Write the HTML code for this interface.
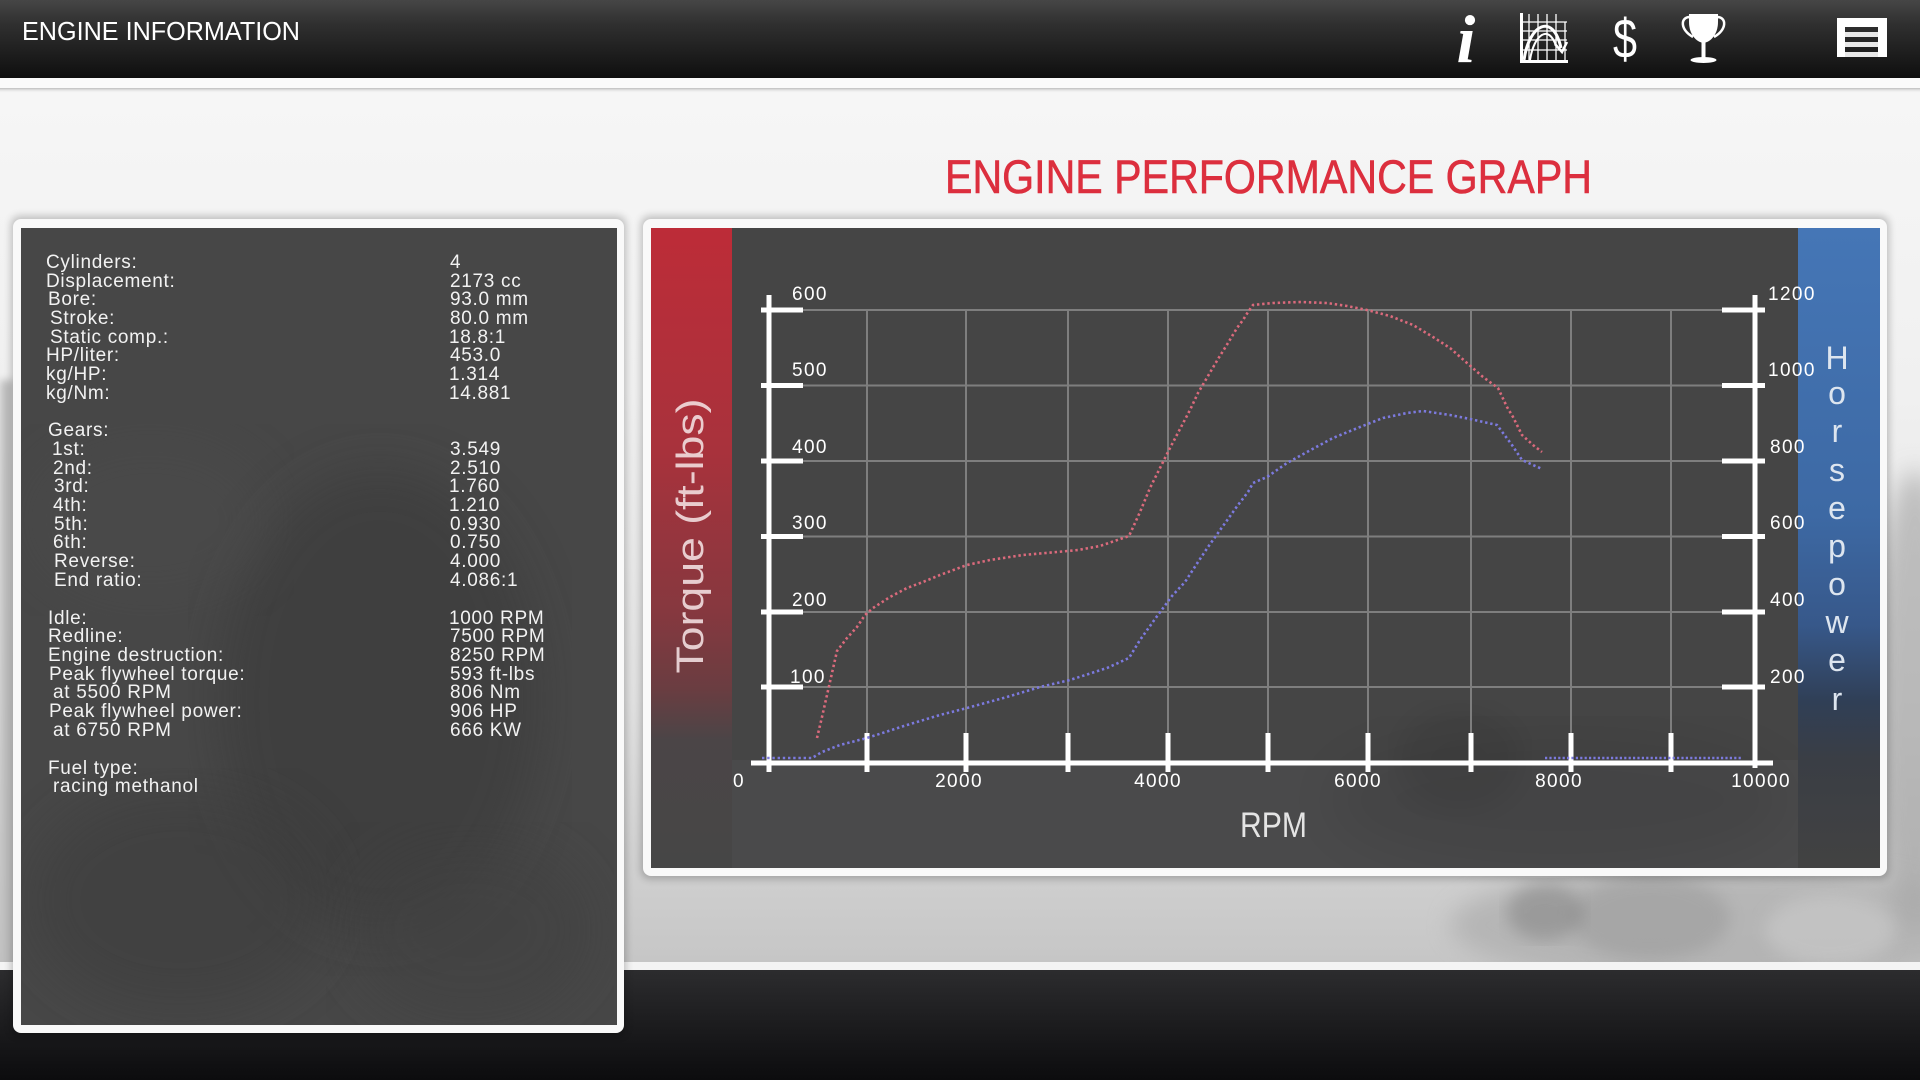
<!DOCTYPE html>
<html><head><meta charset="utf-8">
<style>
html,body{margin:0;padding:0;width:1920px;height:1080px;overflow:hidden;background:#eeeeee;}
svg{display:block;}
text{font-family:"Liberation Sans",sans-serif;}
.lt{fill:#f2f2f2;font-size:19px;letter-spacing:0.7px;}
.tk{fill:#ffffff;font-size:19px;letter-spacing:1.4px;}
</style></head><body>
<svg width="1920" height="1080" viewBox="0 0 1920 1080" xmlns="http://www.w3.org/2000/svg">
<defs>
 <linearGradient id="hdr" x1="0" y1="0" x2="0" y2="1">
  <stop offset="0" stop-color="#464646"/><stop offset="0.3" stop-color="#303030"/><stop offset="1" stop-color="#0f0f0f"/>
 </linearGradient>
 <linearGradient id="bg" x1="0" y1="0" x2="0" y2="1">
  <stop offset="0" stop-color="#f6f6f6"/><stop offset="0.35" stop-color="#f0f0f0"/><stop offset="0.7" stop-color="#e0e0e0"/><stop offset="0.9" stop-color="#cfcfcf"/><stop offset="1" stop-color="#c6c6c6"/>
 </linearGradient>
 <linearGradient id="bot" x1="0" y1="0" x2="0" y2="1">
  <stop offset="0" stop-color="#2c2c2e"/><stop offset="1" stop-color="#0c0c0e"/>
 </linearGradient>
 <linearGradient id="shl" x1="0" y1="0" x2="0" y2="1">
  <stop offset="0" stop-color="#bdbdbd"/><stop offset="1" stop-color="#f4f4f4" stop-opacity="0"/>
 </linearGradient>
 <linearGradient id="red" x1="0" y1="228" x2="0" y2="868" gradientUnits="userSpaceOnUse">
  <stop offset="0" stop-color="#bd2c38"/><stop offset="0.35" stop-color="#a8323c"/><stop offset="0.6" stop-color="#86383f"/><stop offset="0.72" stop-color="#6a3d41"/><stop offset="0.8" stop-color="#4b4547"/><stop offset="1" stop-color="#464646"/>
 </linearGradient>
 <linearGradient id="blue" x1="0" y1="228" x2="0" y2="868" gradientUnits="userSpaceOnUse">
  <stop offset="0" stop-color="#4576b6"/><stop offset="0.45" stop-color="#3d69a4"/><stop offset="0.62" stop-color="#37588a"/><stop offset="0.74" stop-color="#303f56"/><stop offset="0.83" stop-color="#3a3e45"/><stop offset="1" stop-color="#424242"/>
 </linearGradient>
 <filter id="blur4"><feGaussianBlur stdDeviation="4"/></filter>
 <filter id="blur8"><feGaussianBlur stdDeviation="8"/></filter>
 <filter id="blur12"><feGaussianBlur stdDeviation="12"/></filter>
 <filter id="blur25"><feGaussianBlur stdDeviation="25"/></filter>
 <clipPath id="cpL"><rect x="21" y="228" width="596" height="797"/></clipPath>
 <clipPath id="cpC"><rect x="651" y="228" width="1229" height="640"/></clipPath>
 <clipPath id="cpStrip"><rect x="0" y="92" width="1920" height="870"/></clipPath>
</defs>

<!-- base background -->
<rect x="0" y="0" width="1920" height="1080" fill="#eeeeee"/>
<rect x="0" y="88" width="1920" height="874" fill="url(#bg)"/>
<g clip-path="url(#cpStrip)">
 <rect x="0" y="380" width="14" height="590" fill="#bdbdbd" filter="url(#blur4)"/>
 <ellipse cx="1915" cy="700" rx="40" ry="230" fill="#9a9a9a" opacity="0.55" filter="url(#blur12)"/>
 <ellipse cx="1720" cy="925" rx="270" ry="60" fill="#a8a8a8" opacity="0.6" filter="url(#blur12)"/>
 <ellipse cx="1650" cy="918" rx="80" ry="42" fill="#949494" opacity="0.45" filter="url(#blur8)"/>
 <ellipse cx="1545" cy="912" rx="38" ry="28" fill="#7a7a7a" opacity="0.45" filter="url(#blur8)"/>
 <ellipse cx="1830" cy="930" rx="65" ry="35" fill="#cfcfcf" opacity="0.5" filter="url(#blur8)"/>
</g>

<!-- header -->
<rect x="0" y="0" width="1920" height="78" fill="url(#hdr)"/>
<rect x="0" y="78" width="1920" height="10" fill="#fbfbfb"/>
<rect x="0" y="88" width="1920" height="5" fill="url(#shl)"/>
<text x="22" y="40" font-size="25.5" fill="#ffffff" textLength="278" lengthAdjust="spacingAndGlyphs">ENGINE INFORMATION</text>

<!-- icons -->
<text x="1466" y="62" text-anchor="middle" font-style="italic" font-weight="bold" font-size="68" fill="#ffffff" style="font-family:'Liberation Serif',serif">i</text>
<g fill="none" stroke="#ffffff">
 <g stroke-width="1.3">
  <line x1="1529" y1="14" x2="1529" y2="60"/><line x1="1538" y1="14" x2="1538" y2="60"/><line x1="1547" y1="14" x2="1547" y2="60"/><line x1="1556" y1="14" x2="1556" y2="60"/><line x1="1565" y1="22" x2="1565" y2="60"/>
  <line x1="1521" y1="22" x2="1567" y2="22"/><line x1="1521" y1="31" x2="1567" y2="31"/><line x1="1521" y1="40" x2="1567" y2="40"/><line x1="1521" y1="50" x2="1567" y2="50"/>
 </g>
 <path d="M1524 60 C1529 24 1553 12 1561 48" stroke-width="3"/>
 <path d="M1530 60 C1534 34 1549 24 1556 46" stroke-width="2"/>
 <path d="M1555 44 L1562 52 L1567 42" stroke-width="2.5"/>
</g>
<rect x="1520" y="13" width="3" height="50" fill="#ffffff"/>
<rect x="1520" y="60" width="48" height="3" fill="#ffffff"/>
<text x="1625" y="58" text-anchor="middle" font-size="56" fill="#ffffff" textLength="24" lengthAdjust="spacingAndGlyphs">$</text>
<path d="M1689 14 H1718 V22 C1718 34 1711 42 1703.5 43 C1696 42 1689 34 1689 22 Z" fill="#ffffff"/>
<path d="M1690 17 C1680 17 1680 30 1693 37 M1717 17 C1727 17 1727 30 1714 37" fill="none" stroke="#ffffff" stroke-width="2.5"/>
<rect x="1701.5" y="42" width="4" height="16" fill="#ffffff"/>
<ellipse cx="1703.5" cy="60" rx="13" ry="3" fill="#ffffff"/>
<rect x="1837" y="18" width="50" height="9" fill="#ffffff"/>
<rect x="1837" y="27" width="8" height="30" fill="#ffffff"/>
<rect x="1878" y="27" width="9" height="30" fill="#ffffff"/>
<rect x="1845" y="32" width="33" height="5" fill="#e8e8e8"/>
<rect x="1845" y="42" width="33" height="5" fill="#e8e8e8"/>
<rect x="1845" y="52" width="33" height="5" fill="#e8e8e8"/>

<!-- title -->
<text x="945" y="193" font-size="47.5" fill="#dc2f3e" stroke="#dc2f3e" stroke-width="0.6" textLength="647" lengthAdjust="spacingAndGlyphs">ENGINE PERFORMANCE GRAPH</text>

<!-- bottom band -->
<rect x="0" y="962" width="1920" height="8" fill="#f4f4f4"/>
<rect x="0" y="970" width="1920" height="110" fill="url(#bot)"/>

<!-- panel shadows -->
<rect x="11" y="216" width="615" height="820" rx="9" fill="#000" opacity="0.22" filter="url(#blur4)"/>
<rect x="641" y="216" width="1248" height="663" rx="9" fill="#000" opacity="0.22" filter="url(#blur4)"/>

<!-- left panel -->
<rect x="13" y="219" width="611" height="814" rx="8" fill="#f9f9f9"/>
<rect x="21" y="228" width="596" height="797" fill="#474747"/>
<g clip-path="url(#cpL)">
 <ellipse cx="380" cy="700" rx="160" ry="230" fill="#383838" opacity="0.5" filter="url(#blur25)"/>
 <ellipse cx="180" cy="900" rx="150" ry="110" fill="#3a3a3a" opacity="0.45" filter="url(#blur25)"/>
 <ellipse cx="470" cy="930" rx="120" ry="90" fill="#404040" opacity="0.5" filter="url(#blur25)"/>
 <ellipse cx="150" cy="520" rx="120" ry="80" fill="#4e4e4e" opacity="0.4" filter="url(#blur25)"/>
</g>

<!-- left panel text -->
<g class="lt">
<text class="lt" x="46" y="268">Cylinders:</text><text class="lt" x="450" y="268">4</text>
<text class="lt" x="46" y="287">Displacement:</text><text class="lt" x="450" y="287">2173 cc</text>
<text class="lt" x="48" y="305">Bore:</text><text class="lt" x="450" y="305">93.0 mm</text>
<text class="lt" x="50" y="324">Stroke:</text><text class="lt" x="450" y="324">80.0 mm</text>
<text class="lt" x="50" y="343">Static comp.:</text><text class="lt" x="449" y="343">18.8:1</text>
<text class="lt" x="46" y="361">HP/liter:</text><text class="lt" x="450" y="361">453.0</text>
<text class="lt" x="46" y="380">kg/HP:</text><text class="lt" x="449" y="380">1.314</text>
<text class="lt" x="46" y="399">kg/Nm:</text><text class="lt" x="449" y="399">14.881</text>
<text class="lt" x="48" y="436">Gears:</text>
<text class="lt" x="52" y="455">1st:</text><text class="lt" x="450" y="455">3.549</text>
<text class="lt" x="53" y="474">2nd:</text><text class="lt" x="450" y="474">2.510</text>
<text class="lt" x="54" y="492">3rd:</text><text class="lt" x="449" y="492">1.760</text>
<text class="lt" x="53" y="511">4th:</text><text class="lt" x="449" y="511">1.210</text>
<text class="lt" x="54" y="530">5th:</text><text class="lt" x="450" y="530">0.930</text>
<text class="lt" x="53" y="548">6th:</text><text class="lt" x="450" y="548">0.750</text>
<text class="lt" x="54" y="567">Reverse:</text><text class="lt" x="450" y="567">4.000</text>
<text class="lt" x="54" y="586">End ratio:</text><text class="lt" x="450" y="586">4.086:1</text>
<text class="lt" x="48" y="624">Idle:</text><text class="lt" x="449" y="624">1000 RPM</text>
<text class="lt" x="48" y="642">Redline:</text><text class="lt" x="450" y="642">7500 RPM</text>
<text class="lt" x="48" y="661">Engine destruction:</text><text class="lt" x="450" y="661">8250 RPM</text>
<text class="lt" x="49" y="680">Peak flywheel torque:</text><text class="lt" x="450" y="680">593 ft-lbs</text>
<text class="lt" x="53" y="698">at 5500 RPM</text><text class="lt" x="450" y="698">806 Nm</text>
<text class="lt" x="49" y="717">Peak flywheel power:</text><text class="lt" x="450" y="717">906 HP</text>
<text class="lt" x="53" y="736">at 6750 RPM</text><text class="lt" x="450" y="736">666 KW</text>
<text class="lt" x="48" y="774">Fuel type:</text>
<text class="lt" x="53" y="792">racing methanol</text>
</g>

<!-- chart panel -->
<rect x="643" y="219" width="1244" height="657" rx="8" fill="#f9f9f9"/>
<rect x="651" y="228" width="1229" height="640" fill="#454545"/>
<g clip-path="url(#cpC)">
 <rect x="651" y="760" width="1229" height="108" fill="#4a4a4b"/>
 <ellipse cx="1560" cy="800" rx="230" ry="70" fill="#000" opacity="0.07" filter="url(#blur25)"/>
 <ellipse cx="1460" cy="760" rx="60" ry="50" fill="#000" opacity="0.06" filter="url(#blur12)"/>
</g>
<rect x="651" y="228" width="81" height="640" fill="url(#red)"/>
<rect x="1798" y="228" width="82" height="640" fill="url(#blue)"/>

<!-- torque label -->
<text transform="translate(703,536) rotate(-90)" x="0" y="0" text-anchor="middle" font-size="38" fill="#f4e2e3" opacity="0.88" textLength="275" lengthAdjust="spacingAndGlyphs">Torque (ft-lbs)</text>

<!-- horsepower label -->
<g font-size="32" fill="#dde5ef" text-anchor="middle">
 <text x="1837" y="369">H</text>
 <text x="1837" y="404">o</text>
 <text x="1837" y="442">r</text>
 <text x="1837" y="481">s</text>
 <text x="1837" y="519">e</text>
 <text x="1837" y="557">p</text>
 <text x="1837" y="595">o</text>
 <text x="1837" y="633">w</text>
 <text x="1837" y="671">e</text>
 <text x="1837" y="710">r</text>
</g>

<!-- grid -->
<g stroke="#7e7e7e" stroke-width="2">
 <line x1="769" y1="310" x2="1755" y2="310"/>
 <line x1="769" y1="385.5" x2="1755" y2="385.5"/>
 <line x1="769" y1="461" x2="1755" y2="461"/>
 <line x1="769" y1="536.5" x2="1755" y2="536.5"/>
 <line x1="769" y1="612" x2="1755" y2="612"/>
 <line x1="769" y1="687" x2="1755" y2="687"/>
 <line x1="867" y1="310" x2="867" y2="763"/>
 <line x1="966" y1="310" x2="966" y2="763"/>
 <line x1="1068" y1="310" x2="1068" y2="763"/>
 <line x1="1168" y1="310" x2="1168" y2="763"/>
 <line x1="1268" y1="310" x2="1268" y2="763"/>
 <line x1="1368" y1="310" x2="1368" y2="763"/>
 <line x1="1471" y1="310" x2="1471" y2="763"/>
 <line x1="1571" y1="310" x2="1571" y2="763"/>
 <line x1="1671" y1="310" x2="1671" y2="763"/>
</g>

<!-- axes -->
<g fill="#ffffff">
 <rect x="766.5" y="295" width="5" height="477"/>
 <rect x="1752.5" y="295" width="5" height="473"/>
 <rect x="751" y="760.5" width="1022" height="5"/>
 <rect x="761" y="307.5" width="42" height="5"/>
 <rect x="761" y="383" width="42" height="5"/>
 <rect x="761" y="458.5" width="42" height="5"/>
 <rect x="761" y="534" width="42" height="5"/>
 <rect x="761" y="609.5" width="42" height="5"/>
 <rect x="761" y="684.5" width="42" height="5"/>
 <rect x="1722" y="307.5" width="43" height="5"/>
 <rect x="1722" y="383" width="43" height="5"/>
 <rect x="1722" y="458.5" width="43" height="5"/>
 <rect x="1722" y="534" width="43" height="5"/>
 <rect x="1722" y="609.5" width="43" height="5"/>
 <rect x="1722" y="684.5" width="43" height="5"/>
 <rect x="864.5" y="733" width="5" height="39"/>
 <rect x="963.5" y="733" width="5" height="39"/>
 <rect x="1065.5" y="733" width="5" height="39"/>
 <rect x="1165.5" y="733" width="5" height="39"/>
 <rect x="1265.5" y="733" width="5" height="39"/>
 <rect x="1365.5" y="733" width="5" height="39"/>
 <rect x="1468.5" y="733" width="5" height="39"/>
 <rect x="1568.5" y="733" width="5" height="39"/>
 <rect x="1668.5" y="733" width="5" height="39"/>
</g>

<!-- tick labels -->
<g>
 <text class="tk" x="792" y="300">600</text>
 <text class="tk" x="792" y="376">500</text>
 <text class="tk" x="792" y="453">400</text>
 <text class="tk" x="792" y="529">300</text>
 <text class="tk" x="792" y="606">200</text>
 <text class="tk" x="790" y="683">100</text>
 <text class="tk" x="1768" y="300">1200</text>
 <text class="tk" x="1768" y="376">1000</text>
 <text class="tk" x="1770" y="453">800</text>
 <text class="tk" x="1770" y="529">600</text>
 <text class="tk" x="1770" y="606">400</text>
 <text class="tk" x="1770" y="683">200</text>
 <text class="tk" x="739" y="787" text-anchor="middle">0</text>
 <text class="tk" x="959" y="787" text-anchor="middle">2000</text>
 <text class="tk" x="1158" y="787" text-anchor="middle">4000</text>
 <text class="tk" x="1358" y="787" text-anchor="middle">6000</text>
 <text class="tk" x="1559" y="787" text-anchor="middle">8000</text>
 <text class="tk" x="1761" y="787" text-anchor="middle">10000</text>
</g>
<text x="1240" y="837" font-size="35" fill="#e4e4e4" textLength="67" lengthAdjust="spacingAndGlyphs">RPM</text>

<!-- curves -->
<path fill="none" stroke="#db6a7c" stroke-width="2.6" stroke-dasharray="2.4 2.8"
 d="M817 738 L822 717 L827 695 L832 673 L837 651 L847 638 L857 627 L865 615 L873 608 L890 597 L907 588 L923 582 L940 575 L967 565 L990 560 L1023 555 L1057 552 L1078 550 L1100 546 L1129 536 L1135 523 L1140 512 L1150 488 L1160 468 L1170 448 L1180 429 L1190 410 L1198 393 L1208 376 L1218 359 L1228 343 L1237 328 L1243 320 L1248 312 L1253 305 L1273 303 L1300 302 L1327 303 L1347 306 L1367 310 L1390 316 L1413 325 L1433 337 L1450 348 L1467 363 L1483 377 L1498 388 L1507 407 L1513 417 L1522 435 L1533 445 L1542 452"/>
<path fill="none" stroke="#7c7ade" stroke-width="2.6" stroke-dasharray="2.4 2.8"
 d="M762 758 L812 758 L822 752 L840 745 L867 738 L907 725 L940 715 L967 708 L1007 697 L1040 687 L1070 680 L1107 668 L1129 658 L1140 640 L1155 619 L1172 596 L1185 582 L1198 562 L1208 547 L1218 533 L1228 519 L1238 505 L1248 492 L1253 483 L1267 477 L1287 463 L1307 452 L1333 438 L1360 427 L1383 418 L1407 413 L1423 411 L1450 415 L1470 419 L1497 425 L1503 433 L1512 445 L1522 460 L1533 465 L1542 469"/>
<path fill="none" stroke="#7c7ade" stroke-width="2.6" stroke-dasharray="2.2 2.2" d="M1545 758 L1743 758"/>
</svg>
</body></html>
